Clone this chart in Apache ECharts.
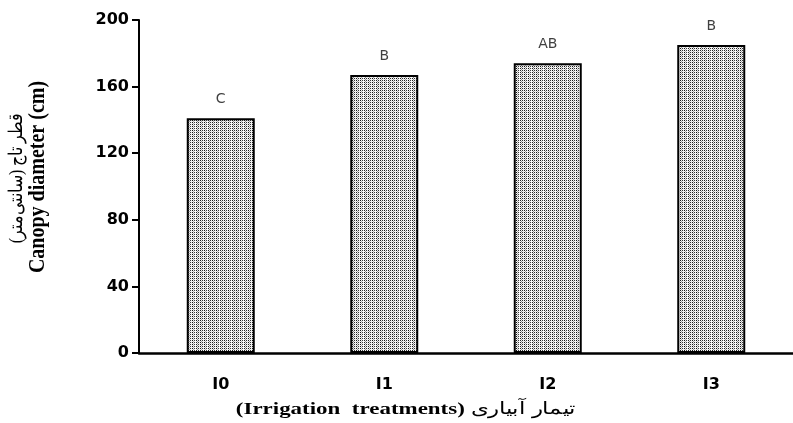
<!DOCTYPE html>
<html>
<head>
<meta charset="utf-8">
<script src="https://cdn.jsdelivr.net/npm/echarts@6/dist/echarts.min.js"></script>
<style>
html,body{margin:0;padding:0;background:#fff;}
#chart{width:793px;height:423px;}
</style>
</head>
<body>
<div id="chart"></div>
<script>
const categories = ['I0', 'I1', 'I2', 'I3'];
const values = [141, 167, 174, 185];
const letters = ['C', 'B', 'AB', 'B'];
const yTicks = { min: 0, max: 200, interval: 40 };
const xAxisNameEn = '(Irrigation  treatments)';
const xAxisNameFa = ' تیمار آبیاری';
const yAxisNameEn = 'Canopy diameter (cm)';
const yAxisNameFa = '\u202Bقطر تاج (سانتی‌متر)\u202C';

// dotted fill pattern
function makePattern() {
  const c = document.createElement('canvas');
  const w = 12, h = 4;
  c.width = w; c.height = h;
  const ctx = c.getContext('2d');
  ctx.fillStyle = '#ffffff';
  ctx.fillRect(0, 0, w, h);
  const dark = ['#101010','#b0b0b0','#404040','#ffffff','#202020','#909090','#303030','#e0e0e0','#181818','#a0a0a0','#383838','#f0f0f0'];
  for (let x = 0; x < w; x++) {
    for (let y = 0; y < h; y++) {
      ctx.fillStyle = ((x + y) % 2 === 0) ? dark[x] : '#f4f4f4';
      ctx.fillRect(x, y, 1, 1);
    }
  }
  return c;
}

const chart = echarts.init(document.getElementById('chart'), null, { renderer: 'canvas' });
chart.setOption({
  animation: false,
  backgroundColor: '#ffffff',
  grid: { left: 139, top: 20, width: 666, height: 333, containLabel: false },
  xAxis: {
    type: 'category',
    data: categories,
    axisLine: { lineStyle: { color: '#000', width: 2.5 } },
    axisTick: { show: false },
    axisLabel: { color: '#000', fontFamily: 'DejaVu Sans', fontWeight: 'bold', fontSize: 16, margin: 24 },
    splitLine: { show: false }
  },
  yAxis: {
    type: 'value',
    min: yTicks.min, max: yTicks.max, interval: yTicks.interval,
    axisLine: { show: true, lineStyle: { color: '#000', width: 2 } },
    axisTick: { show: true, length: 7, lineStyle: { color: '#000', width: 2 } },
    axisLabel: { color: '#000', fontFamily: 'DejaVu Sans', fontWeight: 'bold', fontSize: 16, margin: 10 },
    splitLine: { show: false }
  },
  series: [{
    type: 'bar',
    data: values,
    barWidth: 68,
    itemStyle: {
      color: { image: makePattern(), repeat: 'repeat' },
      borderColor: '#000',
      borderWidth: 2
    },
    label: {
      show: true,
      position: 'top',
      distance: 12,
      color: '#404040',
      fontFamily: 'DejaVu Sans',
      fontSize: 14,
      formatter: p => letters[p.dataIndex]
    }
  }],
  graphic: [
    {
      type: 'text',
      x: 17, y: 178, rotation: Math.PI / 2, scaleY: 1.2,
      style: { text: yAxisNameFa, font: '16px "Liberation Serif"', fill: '#000', align: 'center', verticalAlign: 'middle' }
    },
    {
      type: 'text',
      x: 38, y: 177, rotation: Math.PI / 2, scaleY: 1.2,
      style: { text: yAxisNameEn, font: 'bold 20px "Liberation Serif"', fill: '#000', align: 'center', verticalAlign: 'middle' }
    },
    {
      type: 'text',
      x: 406, y: 410, scaleX: 1.35,
      style: {
        text: '{en|' + xAxisNameEn + '}{fa|' + xAxisNameFa + '}',
        align: 'center', verticalAlign: 'middle',
        rich: {
          en: { font: 'bold 17px "Liberation Serif"', fill: '#000' },
          fa: { font: '17px "Liberation Serif"', fill: '#000' }
        }
      }
    }
  ]
});
</script>
</body>
</html>
